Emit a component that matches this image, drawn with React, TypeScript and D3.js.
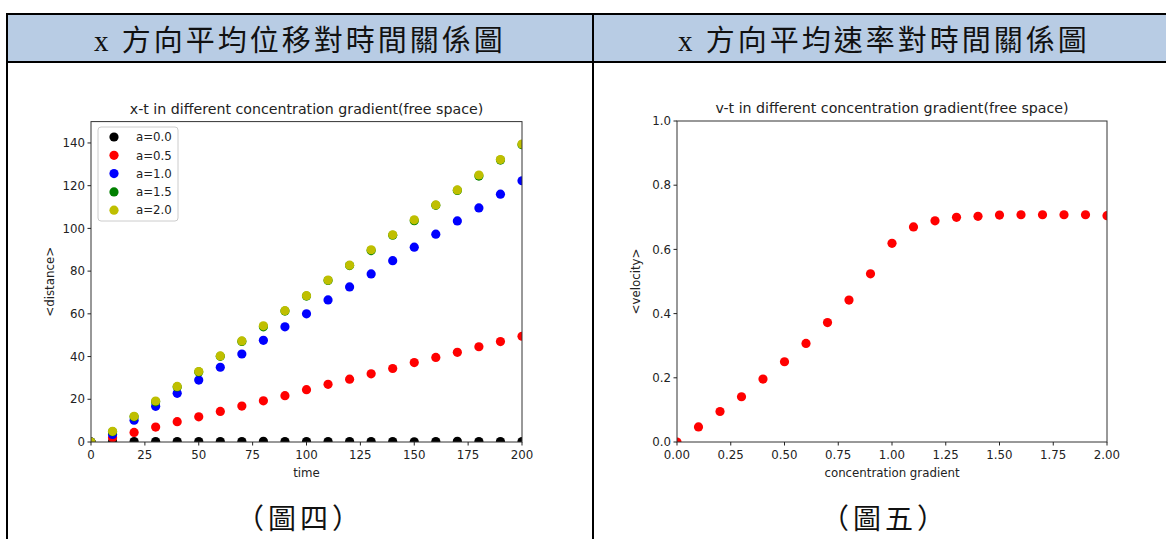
import React from 'react';
import * as d3 from 'd3';

const times = [0, 10, 20, 30, 40, 50, 60, 70, 80, 90, 100, 110, 120, 130, 140, 150, 160, 170, 180, 190, 200];
const seriesA00 = [0, 0.2, 0.2, 0.2, 0.2, 0.2, 0.2, 0.2, 0.3, 0.2, 0.2, 0.2, 0.2, 0.2, 0.2, 0.1, 0.2, 0.3, 0.2, 0.2, 0.2];
const seriesA05 = [0, 2.0, 4.5, 7.0, 9.5, 11.8, 14.3, 16.8, 19.3, 21.7, 24.5, 27.0, 29.4, 31.9, 34.4, 37.2, 39.6, 42.0, 44.6, 47.0, 49.5];
const seriesA10 = [0, 3.5, 10.2, 16.7, 22.8, 29.0, 35.0, 41.2, 47.6, 53.9, 60.0, 66.5, 72.6, 78.7, 84.9, 91.2, 97.3, 103.5, 109.6, 116.0, 122.3];
const seriesA15 = [0, 4.8, 11.8, 18.8, 25.8, 32.8, 40.1, 47.1, 53.9, 61.3, 68.3, 75.6, 82.6, 89.6, 96.8, 103.6, 110.8, 117.8, 124.5, 132.0, 139.2];
const seriesA20 = [0, 5.0, 12.0, 19.2, 26.0, 33.0, 40.3, 47.3, 54.4, 61.5, 68.5, 75.8, 82.8, 90.0, 97.0, 104.0, 111.0, 118.0, 125.0, 132.2, 139.5];
const seriesLabels = ['a=0.0', 'a=0.5', 'a=1.0', 'a=1.5', 'a=2.0'];
const seriesColors = ['#000000', '#ff0000', '#0000ff', '#008000', '#bfbf00'];

const gradients = [0, 0.1, 0.2, 0.3, 0.4, 0.5, 0.6, 0.7, 0.8, 0.9, 1.0, 1.1, 1.2, 1.3, 1.4, 1.5, 1.6, 1.7, 1.8, 1.9, 2.0];
const velocities = [0.0, 0.047, 0.095, 0.141, 0.196, 0.25, 0.307, 0.372, 0.442, 0.524, 0.619, 0.670, 0.689, 0.700, 0.703, 0.707, 0.708, 0.708, 0.708, 0.708, 0.705];

const xTicksLeft = [0, 25, 50, 75, 100, 125, 150, 175, 200];
const yTicksLeft = [0, 20, 40, 60, 80, 100, 120, 140];
const xTicksRight = [0, 0.25, 0.5, 0.75, 1.0, 1.25, 1.5, 1.75, 2.0];
const yTicksRight = [0, 0.2, 0.4, 0.6, 0.8, 1.0];

const headerLeft = 'x 方向平均位移對時間關係圖';
const headerRight = 'x 方向平均速率對時間關係圖';
const captionLeft = '（圖四）';
const captionRight = '（圖五）';

const FONT = '"DejaVu Sans", Verdana, sans-serif';
const CJK = '"Liberation Serif", "Noto Sans CJK TC", "Noto Sans CJK SC", serif';
const TICK_FS = 11.8;
const TITLE_FS = 14.2;

type AxesProps = {
  id: string;
  x: d3.ScaleLinear<number, number>;
  y: d3.ScaleLinear<number, number>;
  xTicks: number[];
  yTicks: number[];
  xFmt: (v: number) => string;
  yFmt: (v: number) => string;
  title: string;
  xLabel: string;
  yLabel: string;
  children: React.ReactNode;
};

const textStyle: React.CSSProperties = { fontFamily: FONT };

function Axes({ id, x, y, xTicks, yTicks, xFmt, yFmt, title, xLabel, yLabel, children }: AxesProps) {
  const [x0, x1] = x.range();
  const [y0, y1] = y.range();
  const cx = (x0 + x1) / 2;
  const cy = (y0 + y1) / 2;
  return (
    <g>
      <defs>
        <clipPath id={id}>
          <rect x={x0} y={y1} width={x1 - x0} height={y0 - y1} />
        </clipPath>
      </defs>
      <g clipPath={`url(#${id})`}>{children}</g>
      <rect x={x0} y={y1} width={x1 - x0} height={y0 - y1} fill="none" stroke="#333" strokeWidth={1} />
      {xTicks.map((t) => (
        <g key={'x' + t}>
          <line x1={x(t)} x2={x(t)} y1={y0} y2={y0 + 3.5} stroke="#222" />
          <text x={x(t)} y={y0 + 17} fontSize={TICK_FS} style={textStyle} textAnchor="middle" fill="#222">
            {xFmt(t)}
          </text>
        </g>
      ))}
      {yTicks.map((t) => (
        <g key={'y' + t}>
          <line x1={x0 - 3.5} x2={x0} y1={y(t)} y2={y(t)} stroke="#222" />
          <text x={x0 - 6} y={y(t) + 4.2} fontSize={TICK_FS} style={textStyle} textAnchor="end" fill="#222">
            {yFmt(t)}
          </text>
        </g>
      ))}
      <text x={cx} y={y1 - 8} fontSize={TITLE_FS} style={textStyle} textAnchor="middle" fill="#222">
        {title}
      </text>
      <text x={cx} y={y0 + 35} fontSize={TICK_FS} style={textStyle} textAnchor="middle" fill="#222">
        {xLabel}
      </text>
      <text
        transform={`translate(${x0 - 37},${cy}) rotate(-90)`}
        fontSize={TICK_FS}
        style={textStyle}
        textAnchor="middle"
        fill="#222"
      >
        {yLabel}
      </text>
    </g>
  );
}

export default function App() {
  const W = 1166;
  const H = 539;
  const tableLeft = 7;
  const tableTop = 14;
  const headerBottom = 62;
  const divider = 593;
  const tableRight = 1175;

  const xL = d3.scaleLinear().domain([0, 200]).range([91, 522]);
  const yL = d3.scaleLinear().domain([0, 150]).range([442, 121.6]);
  const xR = d3.scaleLinear().domain([0, 2]).range([677, 1107]);
  const yR = d3.scaleLinear().domain([0, 1]).range([442, 121]);

  const allSeries = [seriesA00, seriesA05, seriesA10, seriesA15, seriesA20];
  const r = 4.6;

  const legendX = 98;
  const legendY = 127;
  const rowH = 18.3;

  const cjkStyle: React.CSSProperties = { fontFamily: CJK };

  return (
    <svg width={W} height={H} style={{ position: 'absolute', left: 0, top: 0, background: '#fff' }}>
      {/* table */}
      <rect x={tableLeft} y={tableTop} width={tableRight - tableLeft} height={headerBottom - tableTop} fill="#b8cce4" />
      <line x1={tableLeft} x2={tableRight} y1={tableTop} y2={tableTop} stroke="#000" strokeWidth={2} />
      <line x1={tableLeft} x2={tableRight} y1={headerBottom} y2={headerBottom} stroke="#000" strokeWidth={2} />
      <line x1={tableLeft} x2={tableLeft} y1={tableTop - 1} y2={H} stroke="#000" strokeWidth={2} />
      <line x1={divider} x2={divider} y1={tableTop - 1} y2={H} stroke="#000" strokeWidth={2} />
      <text x={(tableLeft + divider) / 2} y={41} fontSize={29} style={cjkStyle} textAnchor="middle" dominantBaseline="central" letterSpacing={3} fill="#111">
        {headerLeft}
      </text>
      <text x={(divider + tableRight) / 2} y={41} fontSize={29} style={cjkStyle} textAnchor="middle" dominantBaseline="central" letterSpacing={3} fill="#111">
        {headerRight}
      </text>
      <text x={300} y={519} fontSize={28} style={cjkStyle} textAnchor="middle" dominantBaseline="central" letterSpacing={4} fill="#111">
        {captionLeft}
      </text>
      <text x={885} y={519} fontSize={28} style={cjkStyle} textAnchor="middle" dominantBaseline="central" letterSpacing={4} fill="#111">
        {captionRight}
      </text>

      {/* left chart */}
      <Axes
        id="clipL"
        x={xL}
        y={yL}
        xTicks={xTicksLeft}
        yTicks={yTicksLeft}
        xFmt={(v) => String(v)}
        yFmt={(v) => String(v)}
        title="x-t in different concentration gradient(free space)"
        xLabel="time"
        yLabel="<distance>"
      >
        {allSeries.map((s, si) =>
          s.map((v, i) => <circle key={si + '-' + i} cx={xL(times[i])} cy={yL(v)} r={r} fill={seriesColors[si]} />)
        )}
      </Axes>
      <g>
        <rect x={legendX} y={legendY} width={80} height={94} rx={3} fill="#fff" fillOpacity={0.8} stroke="#ccc" />
        {seriesLabels.map((lab, i) => (
          <g key={lab}>
            <circle cx={legendX + 16} cy={legendY + 10 + i * rowH} r={r} fill={seriesColors[i]} />
            <text x={legendX + 38} y={legendY + 10 + i * rowH + 4.2} fontSize={TICK_FS} style={textStyle} fill="#222">
              {lab}
            </text>
          </g>
        ))}
      </g>

      {/* right chart */}
      <Axes
        id="clipR"
        x={xR}
        y={yR}
        xTicks={xTicksRight}
        yTicks={yTicksRight}
        xFmt={(v) => v.toFixed(2)}
        yFmt={(v) => v.toFixed(1)}
        title="v-t in different concentration gradient(free space)"
        xLabel="concentration gradient"
        yLabel="<velocity>"
      >
        {velocities.map((v, i) => (
          <circle key={i} cx={xR(gradients[i])} cy={yR(v)} r={r} fill="#ff0000" />
        ))}
      </Axes>
    </svg>
  );
}
